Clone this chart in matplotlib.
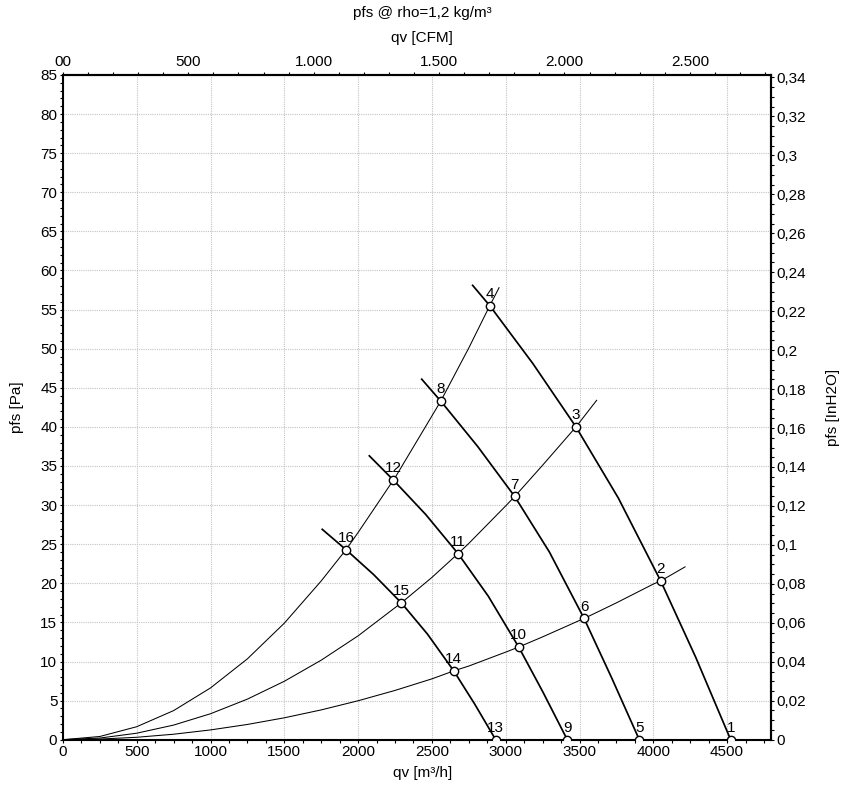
import matplotlib
matplotlib.use("Agg")
import matplotlib.pyplot as plt
from matplotlib.ticker import MultipleLocator

plt.rcParams["font.family"] = ["Liberation Sans", "DejaVu Sans"]

# fan curves (qv in m3/h, pfs in Pa)
fan_q_1 = [2776, 2892, 3184, 3476, 3763, 4050, 4287, 4524]
fan_p_1 = [58.1, 55.5, 48.1, 40.0, 30.9, 20.3, 10.55, 0.0]
fan_q_2 = [2431, 2560, 2810, 3061, 3296, 3531, 3718, 3905]
fan_p_2 = [46.1, 43.3, 37.5, 31.1, 24.0, 15.5, 7.9, 0.0]
fan_q_3 = [2076, 2239, 2458, 2677, 2882, 3088, 3253, 3417]
fan_p_3 = [36.3, 33.2, 28.8, 23.8, 18.35, 11.85, 6.06, 0.0]
fan_q_4 = [1757, 1918, 2106, 2293, 2470, 2648, 2790, 2932]
fan_p_4 = [26.9, 24.3, 21.1, 17.5, 13.5, 8.8, 4.55, 0.0]

# system curves
sys_q_a = [0, 250, 500, 750, 1000, 1250, 1500, 1750, 1918, 2000, 2239, 2250,
           2500, 2560, 2750, 2892, 2955]
sys_p_a = [0, 0.41, 1.66, 3.72, 6.62, 10.34, 14.9, 20.3, 24.3, 26.5, 33.2, 33.5,
           41.4, 43.3, 50.1, 55.5, 57.8]
sys_q_b = [0, 250, 500, 750, 1000, 1250, 1500, 1750, 2000, 2293, 2500, 2677,
           2750, 3000, 3061, 3250, 3476, 3616]
sys_p_b = [0, 0.21, 0.83, 1.87, 3.32, 5.19, 7.47, 10.17, 13.28, 17.5, 20.75, 23.8,
           25.1, 29.9, 31.1, 35.1, 40.0, 43.4]
sys_q_c = [0, 250, 500, 750, 1000, 1250, 1500, 1750, 2000, 2250, 2500, 2648,
           2750, 3000, 3088, 3250, 3500, 3531, 3750, 4000, 4050, 4215]
sys_p_c = [0, 0.08, 0.31, 0.70, 1.25, 1.95, 2.80, 3.81, 4.98, 6.30, 7.78, 8.8,
           9.42, 11.2, 11.85, 13.15, 15.25, 15.5, 17.5, 19.9, 20.3, 22.1]

# numbered operating points 1..16
point_q = [4524, 4050, 3476, 2892, 3905, 3531, 3061, 2560,
           3417, 3088, 2677, 2239, 2932, 2648, 2293, 1918]
point_p = [0, 20.3, 40.0, 55.5, 0, 15.5, 31.1, 43.3,
           0, 11.85, 23.8, 33.2, 0, 8.8, 17.5, 24.3]

cfm_ticks = [0, 500, 1000, 1500, 2000, 2500]
cfm_labels = ["00", "500", "1.000", "1.500", "2.000", "2.500"]
inh2o_ticks = [i * 0.02 for i in range(18)]

M3H_PER_CFM = 1.69901
PA_PER_INH2O = 249.089

fig = plt.figure(figsize=(8.42, 7.87), dpi=100)
ax = fig.add_axes([62.9 / 842, 47.3 / 787, 708.5 / 842, 664.7 / 787])

for q, p in [(fan_q_1, fan_p_1), (fan_q_2, fan_p_2), (fan_q_3, fan_p_3), (fan_q_4, fan_p_4)]:
    ax.plot(q, p, color="black", lw=1.25, zorder=3)
for q, p in [(sys_q_a, sys_p_a), (sys_q_b, sys_p_b), (sys_q_c, sys_p_c)]:
    ax.plot(q, p, color="black", lw=0.75, zorder=3)

ax.plot(point_q, point_p, "o", ms=6, mfc="white", mec="black", mew=1.0, zorder=5)
for i, (q, p) in enumerate(zip(point_q, point_p)):
    ax.annotate(str(i + 1), (q, p), xytext=(0, 3.5), textcoords="offset points",
                ha="center", va="bottom", fontsize=11, zorder=6)

ax.set_xlim(0, 4800)
ax.set_ylim(0, 85)
ax.xaxis.set_major_locator(MultipleLocator(500))
ax.xaxis.set_minor_locator(MultipleLocator(125))
ax.yaxis.set_major_locator(MultipleLocator(5))
ax.yaxis.set_minor_locator(MultipleLocator(1))
ax.grid(True, which="major", linestyle=(0, (1, 1)), color="#c4c4c4", lw=0.8)
ax.set_axisbelow(True)
ax.tick_params(which="both", direction="out", labelsize=11, top=False, right=False, width=0.8)
ax.tick_params(which="major", length=2.5, pad=1.5)
ax.tick_params(which="minor", length=2)
for s in ax.spines.values():
    s.set_linewidth(1.5)

top = ax.secondary_xaxis("top", functions=(lambda q: q / M3H_PER_CFM, lambda c: c * M3H_PER_CFM))
top.set_xticks(cfm_ticks, cfm_labels)
top.xaxis.set_minor_locator(MultipleLocator(100))
top.tick_params(which="both", direction="out", labelsize=11, width=0.8, pad=1.5)
top.tick_params(which="major", length=2.5)
top.tick_params(which="minor", length=2.5)
top.spines["top"].set_linewidth(1.5)

right = ax.secondary_yaxis("right", functions=(lambda p: p / PA_PER_INH2O, lambda i: i * PA_PER_INH2O))
inh2o_labels = [("%.2f" % v).rstrip("0").rstrip(".").replace(".", ",") for v in inh2o_ticks]
right.set_yticks(inh2o_ticks, inh2o_labels)
right.yaxis.set_minor_locator(MultipleLocator(0.005))
right.tick_params(which="both", direction="out", labelsize=11, width=0.8, pad=1)
right.tick_params(which="major", length=2.5)
right.tick_params(which="minor", length=2)
right.spines["right"].set_linewidth(1.5)

fig.text(17 / 842, 1 - 407 / 787, "pfs [Pa]", rotation=90, ha="center", va="center", fontsize=11)
fig.text(833 / 842, 1 - 407 / 787, "pfs [InH2O]", rotation=90, ha="center", va="center", fontsize=11)
fig.text(423 / 842, 1 - 773 / 787, "qv [m³/h]", ha="center", va="center", fontsize=11)
fig.text(422 / 842, 1 - 38 / 787, "qv [CFM]", ha="center", va="center", fontsize=11)
fig.text(422 / 842, 1 - 13 / 787, "pfs @ rho=1,2 kg/m³", ha="center", va="center", fontsize=11)

fig.savefig("out.png", dpi=100)
